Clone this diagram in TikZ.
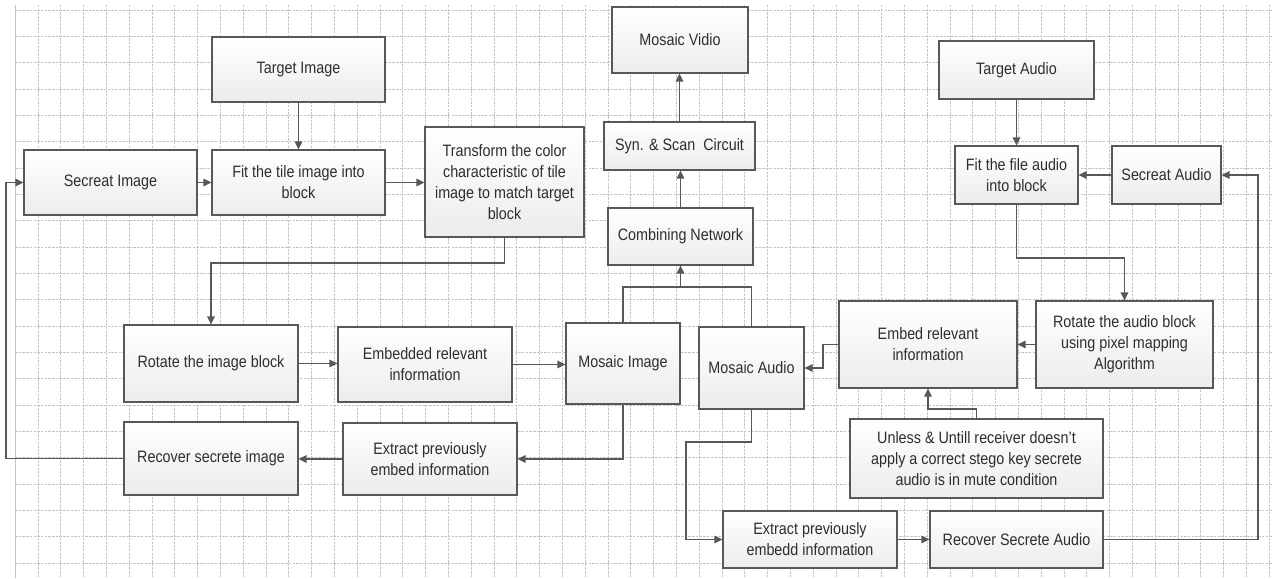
\documentclass[tikz,border=0pt]{standalone}
\usepackage{fontspec}
\setmainfont{Liberation Sans}[FakeStretch=0.87]
\usetikzlibrary{arrows.meta,calc}
\definecolor{linec}{HTML}{585858}
\definecolor{textc}{HTML}{2E2E2E}
\definecolor{gridc}{HTML}{C4C4C4}
\tikzset{
  box/.style={draw=linec, line width=1.1pt, top color=white, bottom color=gray!15,
    text=textc, align=center, inner sep=0pt,
    font=\fontsize{16.5}{21}\selectfont},
  arr/.style={draw=linec, line width=1.2pt, -{Triangle[length=8pt,width=7.5pt]}},
  ln/.style={draw=linec, line width=1.2pt},
  gridline/.style={draw=gridc, line width=0.55pt, dash pattern=on 2.5pt off 1.2pt}
}
\begin{document}
\begin{tikzpicture}[x=1pt,y=-1pt]
\useasboundingbox (0,0) rectangle (1273,578);
\fill[white] (0,0) rectangle (1273,578);
% grid
\foreach \k in {1,...,55} {
  \draw[gridline] ({15+22.8*\k},5) -- ({15+22.8*\k},578);
}
\foreach \k in {0,...,21} {
  \draw[gridline] (15,{10+26.33*\k}) -- (1273,{10+26.33*\k});
}
\draw[gridc, line width=1pt] (15,5) -- (15,578);

% nodes
\node[box, minimum width=173pt, minimum height=65pt] (ti) at (298.5,69.5) {Target Image};
\node[box, minimum width=173pt, minimum height=65pt] (si) at (110.5,182.5) {Secreat Image};
\node[box, minimum width=173pt, minimum height=65pt] (fi) at (298.5,182.5) {Fit the tile image into\\block};
\node[box, minimum width=159pt, minimum height=110pt] (tr) at (504.5,182) {Transform the color\\characteristic of tile\\image to match target\\block};
\node[box, minimum width=136pt, minimum height=66pt] (mv) at (680,40) {Mosaic Vidio};
\node[box, minimum width=151pt, minimum height=48pt] (sy) at (679.5,146) {Syn. \& Scan\ \ Circuit};
\node[box, minimum width=145pt, minimum height=57pt] (cn) at (680.5,236.5) {Combining Network};
\node[box, minimum width=155pt, minimum height=58pt] (ta) at (1016.5,70) {Target Audio};
\node[box, minimum width=123pt, minimum height=58pt] (fa) at (1016.5,175) {Fit the file audio\\into block};
\node[box, minimum width=109pt, minimum height=58pt] (sa) at (1166.5,175) {Secreat Audio};
\node[box, minimum width=174pt, minimum height=77pt] (ri) at (211,363.5) {Rotate the image block};
\node[box, minimum width=174pt, minimum height=73pt] (rci) at (211,458.5) {Recover secrete image};
\node[box, minimum width=174pt, minimum height=75pt] (ei) at (425,364.5) {Embedded relevant\\information};
\node[box, minimum width=174pt, minimum height=72pt] (xi) at (430,459) {Extract previously\\embed information};
\node[box, minimum width=114pt, minimum height=81pt] (mi) at (623,363.5) {Mosaic Image};
\node[box, minimum width=105pt, minimum height=82pt] (ma) at (751.5,368) {Mosaic Audio};
\node[box, minimum width=178pt, minimum height=87pt] (ea) at (928,344.5) {Embed relevant\\information};
\node[box, minimum width=177pt, minimum height=87pt] (ra) at (1124.5,344.5) {Rotate the audio block\\using pixel mapping\\Algorithm};
\node[box, minimum width=253pt, minimum height=79pt] (un) at (976.5,458.5) {Unless \& Untill receiver doesn't\\apply a correct stego key secrete\\audio is in mute condition};
\node[box, minimum width=174pt, minimum height=57pt] (xa) at (810,539.5) {Extract previously\\embedd information};
\node[box, minimum width=173pt, minimum height=57pt] (rca) at (1016.5,539.5) {Recover Secrete Audio};

% helper coordinates
\coordinate (y263) at (0,263);
\coordinate (y287) at (0,287);
\coordinate (y258) at (0,258);
\coordinate (y409) at (0,409);
\coordinate (xL) at (6,0);
\coordinate (xR) at (1258,0);
\coordinate (x823) at (823,0);
\coordinate (c1) at (686,442);

% connectors - image side
\draw[arr] (ti.south) -- (fi.north);
\draw[arr] (si.east) -- (fi.west);
\draw[arr] (fi.east) -- (fi.east -| tr.west);
\draw[arr] (tr.south) -- (tr.south |- y263) -| (ri.north);
\draw[arr] (ri.east) -- (ri.east -| ei.west);
\draw[arr] (ei.east) -- (ei.east -| mi.west);
\draw[ln] (mi.north) |- (y287 -| ma.north) -- (ma.north);
\draw[arr] (cn.south |- y287) -- (cn.south);
\draw[arr] (cn.north) -- (sy.south -| cn.north);
\draw[arr] (sy.north) -- (mv.south -| sy.north);
\draw[arr] (mi.south) |- (xi.east);
\draw[arr] (xi.west) -- (xi.west -| rci.east);
\draw[arr] (rci.west) -- (rci.west -| xL) |- (si.west);

% connectors - audio side
\draw[arr] (ta.south) -- (fa.north);
\draw[arr] (sa.west) -- (fa.east);
\draw[arr] (fa.south) -- (fa.south |- y258) -| (ra.north);
\draw[arr] (ra.west) -- (ea.east);
\draw[arr] (ea.west) -- (ea.west -| x823) |- (ma.east);
\draw[arr] (un.north) -- (un.north |- y409) -| (ea.south);
\draw[arr] (ma.south) |- (c1) |- (xa.west);
\draw[arr] (xa.east) -- (rca.west);
\draw[arr] (rca.east) -- (rca.east -| xR) |- (sa.east);
\end{tikzpicture}
\end{document}
